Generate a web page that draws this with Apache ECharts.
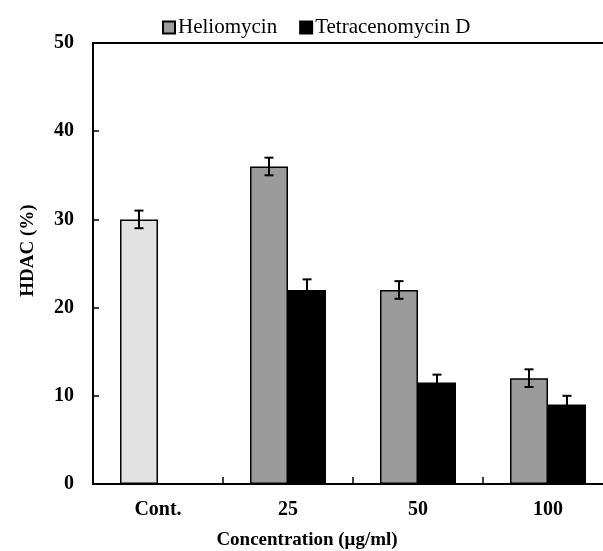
<!DOCTYPE html>
<html>
<head>
<meta charset="utf-8">
<script src="https://cdn.jsdelivr.net/npm/echarts@6/dist/echarts.min.js"></script>
<style>
  html, body { margin: 0; padding: 0; background: #fff; }
  #chart { width: 603px; height: 551px; }
</style>
</head>
<body>
<div id="chart"></div>
<script>
// data
const categories = ['Cont.', '25', '50', '100'];
const controlValue = 30;
const controlErr = 1.0;
const helioValues = [null, 36, 22, 12];
const helioErr = [null, 1.0, 1.0, 1.0];
const tetraValues = [null, 22, 11.5, 9];
const tetraErr = [null, 1.2, 0.9, 1.0];
const yTicks = [0, 10, 20, 30, 40, 50];

const font = '"Liberation Serif", "Times New Roman", serif';
const barW = 38;

var myChart = echarts.init(document.getElementById('chart'));

// error bar drawer, off = pixel shift from category centre
function errRender(off) {
    return function (params, api) {
        const idx = api.value(0);
        const v = api.value(1);
        const e = api.value(2);
        const x = api.coord([idx, v])[0] + off;
        const yHi = api.coord([idx, v + e])[1];
        const yLo = api.coord([idx, v - e])[1];
        const cap = 4.5;
        const st = { stroke: '#000', lineWidth: 2 };
        return {
            type: 'group',
            children: [
                { type: 'line', shape: { x1: x, y1: yHi, x2: x, y2: yLo }, style: st },
                { type: 'line', shape: { x1: x - cap, y1: yHi, x2: x + cap, y2: yHi }, style: st },
                { type: 'line', shape: { x1: x - cap, y1: yLo, x2: x + cap, y2: yLo }, style: st }
            ]
        };
    };
}

const helioData = helioValues.map((v, i) =>
    i === 0 ? { value: controlValue, itemStyle: { color: '#e1e2e1' } } : v);
const tetraData = tetraValues.map(v => (v == null ? '-' : v));

const helioErrData = [[0, controlValue, controlErr]];
helioValues.forEach((v, i) => { if (v != null) helioErrData.push([i, v, helioErr[i]]); });
const tetraErrData = [];
tetraValues.forEach((v, i) => { if (v != null) tetraErrData.push([i, v, tetraErr[i]]); });

const option = {
    animation: false,
    textStyle: { fontFamily: font },
    grid: {
        left: 93, top: 43, width: 520, height: 441,
        outerBoundsMode: 'none',
        containLabel: false,
        show: true, borderColor: '#000', borderWidth: 2, backgroundColor: 'transparent'
    },
    legend: {
        data: ['Heliomycin', 'Tetracenomycin D'],
        left: 157, top: 12,
        itemWidth: 12, itemHeight: 12, itemGap: 22,
        icon: 'rect',
        textStyle: { fontFamily: font, fontSize: 21, color: '#000', padding: [0, 0, 0, -2] }
    },
    xAxis: {
        type: 'category',
        data: categories,
        name: 'Concentration (μg/ml)',
        nameLocation: 'middle',
        nameGap: 47,
        nameTextStyle: { fontFamily: font, fontSize: 19, fontWeight: 'bold', color: '#000', padding: [0, 92, 0, 0] },
        axisLine: { show: true, lineStyle: { color: '#000', width: 2 } },
        axisTick: { show: true, interval: 0, inside: true, length: 7, lineStyle: { color: '#000', width: 1.5 } },
        axisLabel: { fontFamily: font, fontSize: 20, fontWeight: 'bold', color: '#000', margin: 16 }
    },
    yAxis: {
        type: 'value',
        min: 0, max: 50, interval: 10,
        name: 'HDAC (%)',
        nameLocation: 'middle',
        nameGap: 55,
        nameTextStyle: { fontFamily: font, fontSize: 19, fontWeight: 'bold', color: '#000', padding: [0, 0, 0, 26] },
        axisLine: { show: true, lineStyle: { color: '#000', width: 2 } },
        axisTick: { show: true, inside: true, length: 6, lineStyle: { color: '#000', width: 1.5 } },
        splitLine: { show: false },
        axisLabel: {
            fontFamily: font, fontSize: 20, fontWeight: 'bold', color: '#000', margin: 19,
            formatter: v => (yTicks.indexOf(v) >= 0 ? String(v) : '')
        }
    },
    series: [
        {
            name: 'Heliomycin',
            type: 'bar',
            data: helioData,
            barWidth: barW,
            barGap: '0%',
            itemStyle: { color: '#9a9b9a', borderColor: '#000', borderWidth: 1.5 }
        },
        {
            name: 'Tetracenomycin D',
            type: 'bar',
            data: tetraData,
            barWidth: barW,
            itemStyle: { color: '#000', borderColor: '#000', borderWidth: 1.5 }
        },
        {
            type: 'custom',
            renderItem: errRender(-barW / 2),
            data: helioErrData,
            z: 5
        },
        {
            type: 'custom',
            renderItem: errRender(barW / 2),
            data: tetraErrData,
            z: 5
        }
    ]
};
myChart.setOption(option);
</script>
</body>
</html>
